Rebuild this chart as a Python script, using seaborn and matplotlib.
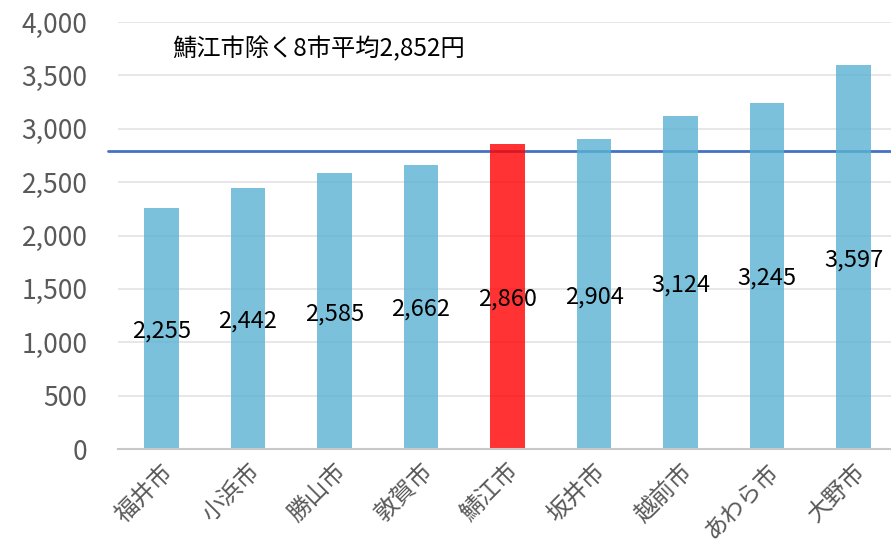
"""Bar chart: 福井県9市の比較 (鯖江市を強調)."""
import matplotlib
matplotlib.use("Agg")
import matplotlib.pyplot as plt
from matplotlib.ticker import FuncFormatter
import seaborn as sns

# data
cities = ["福井市", "小浜市", "勝山市", "敦賀市", "鯖江市", "坂井市", "越前市", "あわら市", "大野市"]
values = [2255, 2442, 2585, 2662, 2860, 2904, 3124, 3245, 3597]
highlight = "鯖江市"
avg_line = 2790
avg_text = "鯖江市除く8市平均2,852円"

sns.set_theme(style="white")
plt.rcParams["font.family"] = ["Noto Sans CJK JP", "DejaVu Sans"]

blue = "#5ab2d2"
red = "#ff0000"
colors = [red if c == highlight else blue for c in cities]

fig = plt.figure(figsize=(8.91, 5.54), dpi=100)
ax = fig.add_axes([118 / 891, 105 / 554, 779 / 891, 427 / 554])

sns.barplot(x=cities, y=values, hue=cities, palette=colors, legend=False,
            width=0.4, saturation=1, alpha=0.8, linewidth=0, ax=ax, zorder=2)

ax.set_ylim(0, 4000)
ax.set_xlim(-0.5, len(cities) - 0.5)
ax.set_yticks(range(0, 4001, 500))
ax.yaxis.set_major_formatter(FuncFormatter(lambda v, _: f"{v:,.0f}"))
ax.grid(axis="y", color="#e3e3e3", linewidth=1.2, zorder=0)
for side in ["top", "right", "left"]:
    ax.spines[side].set_visible(False)
ax.spines["bottom"].set_color("#c8c8c8")
ax.spines["bottom"].set_linewidth(1.5)
ax.tick_params(axis="y", labelsize=19, labelcolor="#595959", length=0, pad=22)
ax.tick_params(axis="x", labelsize=17, labelcolor="#595959", length=0, pad=8)
plt.setp(ax.get_xticklabels(), rotation=45, ha="right", rotation_mode="anchor")

# average line
ax.plot([-0.62, len(cities) - 0.5], [avg_line, avg_line], color="#4472c4",
        linewidth=2, clip_on=False, zorder=1)
ax.text(0.12, 3740, avg_text, fontsize=17.5, color="black", va="center", ha="left")

# value labels in the middle of each bar
for i, v in enumerate(values):
    ax.text(i, v / 2 - 25, f"{v:,}", ha="center", va="center", fontsize=17, color="black", zorder=3)

ax.set_xlabel("")
ax.set_ylabel("")
fig.savefig("out.png", dpi=100)
